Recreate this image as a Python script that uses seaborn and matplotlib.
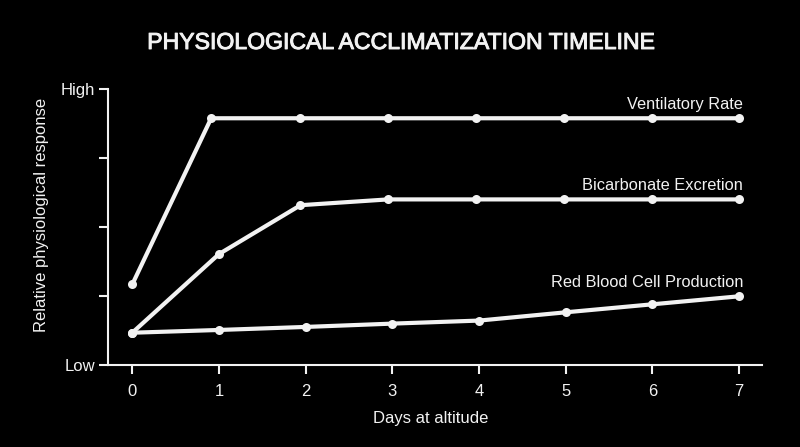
import matplotlib
matplotlib.use("Agg")
import matplotlib.pyplot as plt
import matplotlib.patheffects as pe
import seaborn as sns
import numpy as np

# ---- data ----
series_names = ["Ventilatory Rate", "Bicarbonate Excretion", "Red Blood Cell Production"]
vent_days = [0, 0.91, 1.94, 2.95, 3.97, 4.98, 6, 7]
vent_vals = [29.2, 89.4, 89.4, 89.4, 89.4, 89.4, 89.4, 89.4]
bicarb_days = [0, 1, 1.94, 2.95, 3.97, 4.98, 6, 7]
bicarb_vals = [11.7, 40.2, 57.9, 60.0, 60.0, 60.0, 60.0, 60.0]
rbc_days = [0, 1, 2, 3, 4, 5, 6, 7]
rbc_vals = [11.7, 12.7, 13.8, 15.0, 16.1, 19.1, 22.0, 24.9]
x_ticks = [0, 1, 2, 3, 4, 5, 6, 7]
y_ticks = [0, 25, 50, 75, 100]
y_tick_labels = ["Low", "", "", "", "High"]

FG = "#f2f2f2"
sns.set_theme(style="dark")
plt.rcParams["font.family"] = ["Liberation Sans", "DejaVu Sans"]

fig = plt.figure(figsize=(8, 4.47), dpi=100, facecolor="black")
ax = fig.add_axes([0.135, 0.1834, 0.8175, 0.6175])
ax.set_facecolor("black")

for days, vals, name in [(vent_days, vent_vals, series_names[0]),
                         (bicarb_days, bicarb_vals, series_names[1]),
                         (rbc_days, rbc_vals, series_names[2])]:
    sns.lineplot(x=days, y=vals, ax=ax, color=FG, linewidth=3.0, marker="o",
                 markersize=6.5, markeredgewidth=0, sort=False)
    ax.annotate(name, xy=(days[-1], vals[-1]), xytext=(3, 7), textcoords="offset points",
                ha="right", va="baseline", color=FG, fontsize=11.8)

ax.set_xlim(-0.28, 7.263)
ax.set_ylim(0, 100)
ax.set_xticks(x_ticks)
ax.set_xticklabels([str(t) for t in x_ticks])
ax.set_yticks(y_ticks)
ax.set_yticklabels(y_tick_labels)
ax.tick_params(axis="both", colors=FG, labelcolor=FG, labelsize=12, length=6.5, width=1.5,
               direction="out", bottom=True, left=True)
ax.tick_params(axis="x", pad=7.5)
ax.tick_params(axis="y", pad=3)
ax.grid(False)
for side in ["top", "right"]:
    ax.spines[side].set_visible(False)
for side in ["left", "bottom"]:
    ax.spines[side].set_visible(True)
    ax.spines[side].set_color(FG)
    ax.spines[side].set_linewidth(1.5)

ax.set_xlabel("Days at altitude", color=FG, fontsize=12)
ax.set_ylabel("Relative physiological response", color=FG, fontsize=12)
ax.xaxis.set_label_coords(0.493, -0.165)
ax.yaxis.set_label_coords(-0.090, 0.543)

fig.text(0.5, 0.905, "PHYSIOLOGICAL ACCLIMATIZATION TIMELINE", ha="center", va="center",
         color=FG, fontsize=16.6,
         path_effects=[pe.withStroke(linewidth=0.7, foreground=FG)])

fig.savefig("out.png", dpi=100, facecolor="black")
